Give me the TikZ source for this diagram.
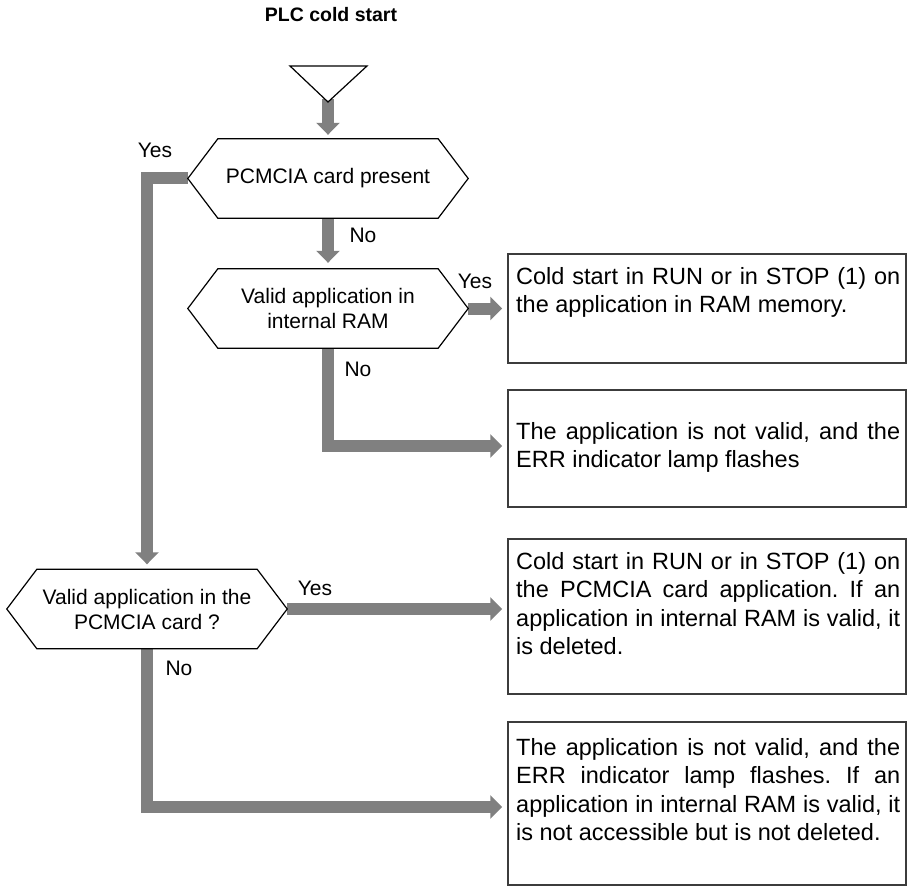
\documentclass[tikz,border=0pt]{standalone}
\usepackage{fontspec}
\setmainfont{Liberation Sans}
\usetikzlibrary{arrows.meta}
\pgfdeclarelayer{pipes}
\pgfdeclarelayer{shapes}
\pgfsetlayers{pipes,shapes,main}
\definecolor{pipegray}{RGB}{128,128,128}
\definecolor{boxedge}{RGB}{60,60,60}
\frenchspacing
\newcommand\hexoutline[1]{%
  \begin{pgfonlayer}{shapes}
  \draw[hexline] ([xshift=30pt]#1.north west) -- ([xshift=-30pt]#1.north east) -- (#1.east)
     -- ([xshift=-30pt]#1.south east) -- ([xshift=30pt]#1.south west) -- (#1.west) -- cycle;
  \end{pgfonlayer}}
\begin{document}
\begin{tikzpicture}[x=1pt,y=-1pt,
  pipe/.style={draw=pipegray, line width=12pt, line join=miter, line cap=butt,
    -{Triangle[length=12pt,width=23pt]}},
  hexline/.style={draw=black, fill=white, line width=1.2pt, line join=miter},
  hexnode/.style={minimum width=280pt, minimum height=79pt, inner sep=0pt,
    align=center, font=\fontsize{21}{25}\selectfont},
  box/.style={draw=boxedge, line width=1.5pt, fill=white, inner sep=0pt},
  boxtext/.style={anchor=base west, inner sep=0pt, text width=384pt, align=justify,
    font=\fontsize{23.5}{28.5}\selectfont},
  lbl/.style={inner sep=0pt, font=\fontsize{21}{24}\selectfont},
  titlefont/.style={inner sep=0pt, font=\bfseries\fontsize{19.5}{23}\selectfont}
]
\useasboundingbox (0,0) rectangle (914,888);

% title
\node[titlefont, anchor=base] (title) at (331,22) {PLC cold start};

% start triangle
\coordinate (tri) at (328,102);
\begin{pgfonlayer}{shapes}
\draw[hexline] (290,66) -- (367,66) -- (tri) -- cycle;
\end{pgfonlayer}

% decisions
\node[hexnode] (h1) at (328,178.5) {PCMCIA card present};
\node[hexnode] (h2) at (328,308.5) {Valid application in\\internal RAM};
\node[hexnode] (h3) at (147,609) {Valid application in the\\PCMCIA card ?};
\hexoutline{h1}
\hexoutline{h2}
\hexoutline{h3}

% boxes
\node[box, minimum width=398pt, minimum height=109pt] (b1) at (707,308.5) {};
\node[box, minimum width=398pt, minimum height=117pt] (b2) at (707,448.5) {};
\node[box, minimum width=398pt, minimum height=155pt] (b3) at (707,616.5) {};
\node[box, minimum width=398pt, minimum height=163pt] (b4) at (707,803.5) {};

\node[boxtext] (t1) at (516,284) {Cold start in RUN or in STOP (1) on\linebreak the application in RAM memory.};
\node[boxtext] (t2) at (516,439) {The application is not valid, and the\linebreak ERR indicator lamp flashes};
\node[boxtext] (t3) at (516,569) {Cold start in RUN or in STOP (1) on\linebreak the PCMCIA card application. If an\linebreak application in internal RAM is valid, it\linebreak is deleted.};
\node[boxtext] (t4) at (516,755) {The application is not valid, and the\linebreak ERR indicator lamp flashes. If an\linebreak application in internal RAM is valid, it\linebreak is not accessible but is not deleted.};

% labels
\node[lbl] (y1) at (155,150) {Yes};
\node[lbl] (n1) at (363,235) {No};
\node[lbl] (y2) at (475,281) {Yes};
\node[lbl] (n2) at (358,369) {No};
\node[lbl] (y3) at (315,588) {Yes};
\node[lbl] (n3) at (179,668) {No};

% connectors
\begin{pgfonlayer}{pipes}
\draw[pipe] ([yshift=3pt]tri) -- ([yshift=4pt]h1.north);
\draw[pipe] (h1.south) -- ([yshift=6pt]h2.north);
\draw[pipe] (h1.west) -| ([yshift=5pt]h3.north);
\draw[pipe] (h2.east) -- ([xshift=-5pt]h2.east -| b1.west);
\draw[pipe] (h2.south) |- ([xshift=-5pt,yshift=2.5pt]b2.west);
\draw[pipe] (h3.east) -- ([xshift=-5pt]h3.east -| b3.west);
\draw[pipe] (h3.south) |- ([xshift=-5pt,yshift=-3.5pt]b4.west);
\end{pgfonlayer}
\end{tikzpicture}
\end{document}
